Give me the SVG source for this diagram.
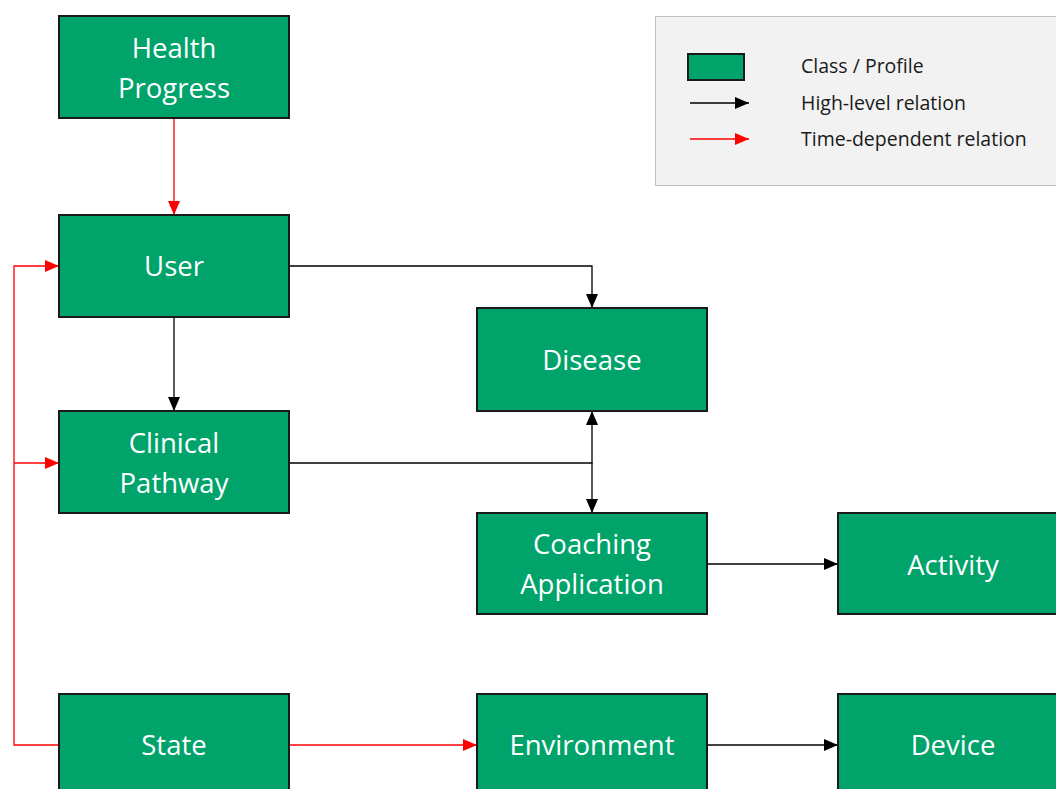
<svg xmlns="http://www.w3.org/2000/svg" width="1056" height="789" viewBox="0 0 1056 789">
<style>
.node{fill:#00a36a;stroke:#1a1a1a;stroke-width:2}
.lbl{fill:#ffffff;font-family:"Open Sans","Noto Sans",sans-serif;font-size:27.5px;text-anchor:middle}
.blk{fill:none;stroke:#000;stroke-width:1.3}
.red{fill:none;stroke:#ff0000;stroke-width:1.3}
.leg{fill:#1a1a1a;font-family:"Open Sans","Noto Sans",sans-serif;font-size:19.5px}
</style>
<defs>
<marker id="ab" markerWidth="14" markerHeight="12" refX="14" refY="6" orient="auto" markerUnits="userSpaceOnUse"><path d="M0,0L14,6L0,12Z" fill="#000"/></marker>
<marker id="ar" markerWidth="14" markerHeight="12" refX="14" refY="6" orient="auto" markerUnits="userSpaceOnUse"><path d="M0,0L14,6L0,12Z" fill="#ff0000"/></marker>
</defs>
<rect width="1056" height="789" fill="#fff"/>
<g id="legend">
<rect x="655.5" y="16.5" width="410" height="169" fill="#f2f2f2" stroke="#bfbfbf" stroke-width="1"/>
<rect x="688" y="54" width="56" height="26" class="node"/>
<line x1="690" y1="103" x2="749" y2="103" class="blk" marker-end="url(#ab)"/>
<line x1="690" y1="139" x2="749" y2="139" class="red" marker-end="url(#ar)"/>
<text x="801" y="73" class="leg">Class / Profile</text>
<text x="801" y="110" class="leg">High-level relation</text>
<text x="801" y="146" class="leg">Time-dependent relation</text>
</g>
<g id="connectors">
<line x1="174" y1="118" x2="174" y2="215" class="red" marker-end="url(#ar)"/>
<polyline points="289,266 592,266 592,308" class="blk" marker-end="url(#ab)"/>
<line x1="174" y1="317" x2="174" y2="411" class="blk" marker-end="url(#ab)"/>
<polyline points="289,463 592,463 592,411" class="blk" marker-end="url(#ab)"/>
<line x1="592" y1="463" x2="592" y2="513" class="blk" marker-end="url(#ab)"/>
<line x1="707" y1="564" x2="838" y2="564" class="blk" marker-end="url(#ab)"/>
<line x1="289" y1="745" x2="477" y2="745" class="red" marker-end="url(#ar)"/>
<line x1="707" y1="745" x2="838" y2="745" class="blk" marker-end="url(#ab)"/>
<polyline points="59,745 14,745 14,266 59,266" class="red" marker-end="url(#ar)"/>
<line x1="14" y1="463" x2="59" y2="463" class="red" marker-end="url(#ar)"/>
</g>
<g id="health-progress"><rect x="59" y="16" width="230" height="102" class="node"/><text x="174" y="58" class="lbl">Health</text><text x="174" y="98" class="lbl">Progress</text></g>
<g id="user"><rect x="59" y="215" width="230" height="102" class="node"/><text x="174" y="276" class="lbl">User</text></g>
<g id="clinical-pathway"><rect x="59" y="411" width="230" height="102" class="node"/><text x="174" y="453" class="lbl">Clinical</text><text x="174" y="493" class="lbl">Pathway</text></g>
<g id="state"><rect x="59" y="694" width="230" height="102" class="node"/><text x="174" y="755" class="lbl">State</text></g>
<g id="disease"><rect x="477" y="308" width="230" height="103" class="node"/><text x="592" y="370" class="lbl">Disease</text></g>
<g id="coaching-application"><rect x="477" y="513" width="230" height="101" class="node"/><text x="592" y="554" class="lbl">Coaching</text><text x="592" y="594" class="lbl">Application</text></g>
<g id="activity"><rect x="838" y="513" width="230" height="101" class="node"/><text x="953" y="575" class="lbl">Activity</text></g>
<g id="environment"><rect x="477" y="694" width="230" height="102" class="node"/><text x="592" y="755" class="lbl">Environment</text></g>
<g id="device"><rect x="838" y="694" width="230" height="102" class="node"/><text x="953" y="755" class="lbl">Device</text></g>
</svg>
